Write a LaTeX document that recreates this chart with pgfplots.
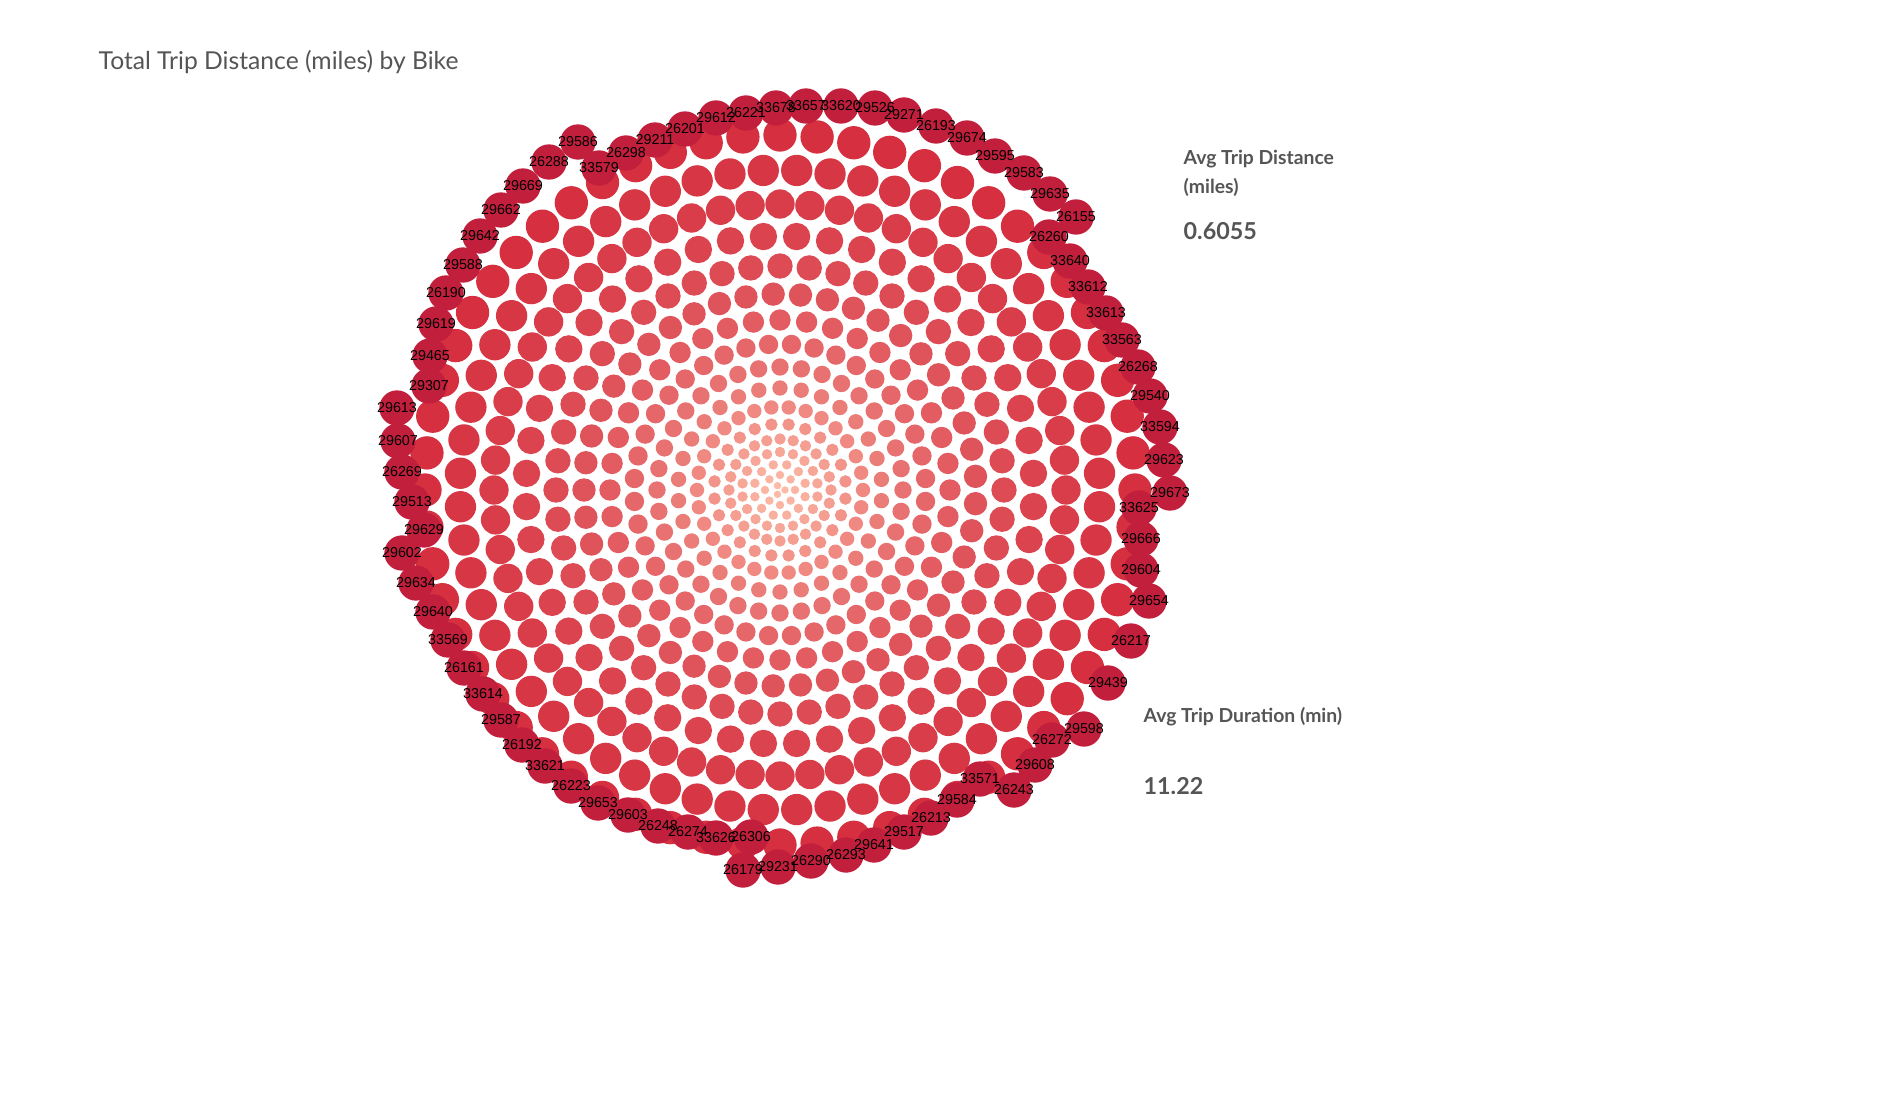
\documentclass[border=0pt]{standalone}
\usepackage{pgfplots}
\usepackage{pgfplotstable}
\pgfplotsset{compat=1.18}
\usepackage{fontspec}
\setmainfont{Lato}
\newfontfamily\lab{Liberation Sans}
\definecolor{cDark}{HTML}{D52F40}
\definecolor{cLight}{HTML}{FDBBA6}
\definecolor{cOuter}{HTML}{C21F3D}
\definecolor{txt}{HTML}{555555}
\pgfplotstableread[row sep=\\]{a\\0\\6\\12\\18\\24\\30\\36\\42\\48\\54\\60\\66\\72\\78\\84\\90\\96\\102\\108\\114\\120\\126\\132\\138\\144\\150\\156\\162\\168\\174\\180\\186\\192\\198\\204\\210\\216\\222\\228\\234\\240\\246\\252\\258\\264\\270\\276\\282\\288\\294\\300\\306\\312\\318\\324\\330\\336\\342\\348\\354\\}\Asixty
\pgfplotstableread[row sep=\\]{a\\0\\7.5\\15\\22.5\\30\\37.5\\45\\52.5\\60\\67.5\\75\\82.5\\90\\97.5\\105\\112.5\\120\\127.5\\135\\142.5\\150\\157.5\\165\\172.5\\180\\187.5\\195\\202.5\\210\\217.5\\225\\232.5\\240\\247.5\\255\\262.5\\270\\277.5\\285\\292.5\\300\\307.5\\315\\322.5\\330\\337.5\\345\\352.5\\}\Afortyeight
\pgfplotstableread[row sep=\\]{a\\0\\8\\16\\24\\32\\40\\48\\56\\64\\72\\80\\88\\96\\104\\112\\120\\128\\136\\144\\152\\160\\168\\176\\184\\192\\200\\208\\216\\224\\232\\240\\248\\256\\264\\272\\280\\288\\296\\304\\312\\320\\328\\336\\344\\352\\}\Afortyfive
\pgfplotstableread[row sep=\\]{a\\0\\9\\18\\27\\36\\45\\54\\63\\72\\81\\90\\99\\108\\117\\126\\135\\144\\153\\162\\171\\180\\189\\198\\207\\216\\225\\234\\243\\252\\261\\270\\279\\288\\297\\306\\315\\324\\333\\342\\351\\}\Aforty
\pgfplotstableread[row sep=\\]{a\\0\\10\\20\\30\\40\\50\\60\\70\\80\\90\\100\\110\\120\\130\\140\\150\\160\\170\\180\\190\\200\\210\\220\\230\\240\\250\\260\\270\\280\\290\\300\\310\\320\\330\\340\\350\\}\Athirtysix
\pgfplotstableread[row sep=\\]{a\\0\\12\\24\\36\\48\\60\\72\\84\\96\\108\\120\\132\\144\\156\\168\\180\\192\\204\\216\\228\\240\\252\\264\\276\\288\\300\\312\\324\\336\\348\\}\Athirty
\pgfplotstableread[row sep=\\]{a\\0\\15\\30\\45\\60\\75\\90\\105\\120\\135\\150\\165\\180\\195\\210\\225\\240\\255\\270\\285\\300\\315\\330\\345\\}\Atwentyfour
\pgfplotstableread[row sep=\\]{a\\0\\20\\40\\60\\80\\100\\120\\140\\160\\180\\200\\220\\240\\260\\280\\300\\320\\340\\}\Aeighteen
\pgfplotstableread[row sep=\\]{a\\0\\30\\60\\90\\120\\150\\180\\210\\240\\270\\300\\330\\}\Atwelve
\pgfplotstableread[row sep=\\]{a\\0\\45\\90\\135\\180\\225\\270\\315\\}\Aeight
\pgfplotstableread[row sep=\\]{a\\0\\120\\240\\}\Athree
\pgfplotstableread{
x y t
580 142 29586
551 162 26288
601 168 33579
628 153 26298
657 140 29211
687 129 26201
718 118 29612
748 113 26221
778 108 33678
808 106 33657
843 106 33620
877 108 29526
906 115 29271
938 126 26193
969 138 29674
997 156 29595
1026 173 29583
1052 194 29635
1078 217 26155
1051 237 26260
1072 261 33640
1090 287 33612
1108 313 33613
1124 340 33563
1140 367 26268
1152 396 29540
1162 427 33594
1166 460 29623
1172 493 29673
1141 508 33625
1143 539 29666
1143 570 29604
1151 601 29654
1133 641 26217
1110 683 29439
1086 729 29598
1054 740 26272
1037 765 29608
1016 790 26243
982 779 33571
959 800 29584
933 818 26213
906 832 29517
876 845 29641
848 855 26293
813 861 26290
780 867 29231
745 870 26179
753 837 26306
718 838 33626
690 832 26274
660 826 26248
630 815 29603
600 803 29653
573 786 26223
547 766 33621
524 745 26192
503 720 29587
485 694 33614
466 668 26161
450 640 33569
435 612 29640
418 583 29634
404 553 29602
426 530 29629
414 502 29513
404 472 26269
400 441 29607
399 408 29613
431 386 29307
432 356 29465
438 324 29619
448 293 26190
465 265 29588
482 236 29642
503 210 29662
525 186 29669
}\Labels
\newcommand\ring[6]{\addplot[only marks, mark=*, mark size=#4, color={cDark!#5!cLight}]
  table[x index=0, y index=0, x expr={#2*cos(\thisrow{a}+#3)}, y expr={#2*sin(\thisrow{a}+#3)}]{#1};}
\begin{document}
\begin{tikzpicture}
\begin{axis}[x=0.3pt, y=0.3pt, xmin=-780, xmax=1106, ymin=-622, ymax=490,
  hide axis, clip=false]
\addplot[draw=none, mark=none] coordinates {(-780,-622) (1106,490)};
\ring{\Asixty}{355}{0}{4.8}{100}{}
\ring{\Asixty}{320}{3}{4.5}{95}{}
\ring{\Asixty}{286}{0}{4.2}{90}{}
\ring{\Afortyeight}{254}{3.75}{3.9}{85}{}
\ring{\Afortyeight}{224}{0}{3.6}{80}{}
\ring{\Afortyfive}{196}{4}{3.3}{74}{}
\ring{\Aforty}{170}{0}{3.0}{68}{}
\ring{\Aforty}{146}{4.5}{2.7}{60}{}
\ring{\Athirtysix}{123}{0}{2.4}{52}{}
\ring{\Athirty}{102}{6}{2.1}{44}{}
\ring{\Athirty}{83}{0}{1.95}{36}{}
\ring{\Atwentyfour}{66}{7.5}{1.65}{28}{}
\ring{\Atwentyfour}{51}{0}{1.5}{20}{}
\ring{\Aeighteen}{38}{10}{1.35}{14}{}
\ring{\Atwelve}{26}{15}{1.2}{8}{}
\ring{\Aeight}{15}{0}{1.05}{4}{}
\ring{\Athree}{5}{0}{0.9}{0}{}
\addplot[only marks, mark=*, mark size=5.1pt, color=cOuter]
  table[x expr={\thisrow{x}-782}, y expr={490-\thisrow{y}}]{\Labels};
\addplot[only marks, mark=none, nodes near coords, point meta=explicit symbolic,
  every node near coord/.style={anchor=center, font=\lab\fontsize{4.3}{5}\selectfont, text=black, inner sep=0pt}]
  table[x expr={\thisrow{x}-782}, y expr={490-\thisrow{y}}, meta=t]{\Labels};
\node[anchor=west, text=txt, font=\fontsize{7.4}{9}\selectfont, inner sep=0pt] at (axis cs:-682,428) {Total Trip Distance (miles) by Bike};
\node[anchor=west, text=txt, font=\bfseries\fontsize{5.8}{7}\selectfont, inner sep=0pt] at (axis cs:403,331) {Avg Trip Distance};
\node[anchor=west, text=txt, font=\bfseries\fontsize{5.8}{7}\selectfont, inner sep=0pt] at (axis cs:403,303) {(miles)};
\node[anchor=west, text=txt, font=\bfseries\fontsize{7}{8}\selectfont, inner sep=0pt] at (axis cs:403,259) {0.6055};
\node[anchor=west, text=txt, font=\bfseries\fontsize{5.8}{7}\selectfont, inner sep=0pt] at (axis cs:363,-227) {Avg Trip Duration (min)};
\node[anchor=west, text=txt, font=\bfseries\fontsize{7}{8}\selectfont, inner sep=0pt] at (axis cs:363,-296) {11.22};
\end{axis}
\end{tikzpicture}
\end{document}
